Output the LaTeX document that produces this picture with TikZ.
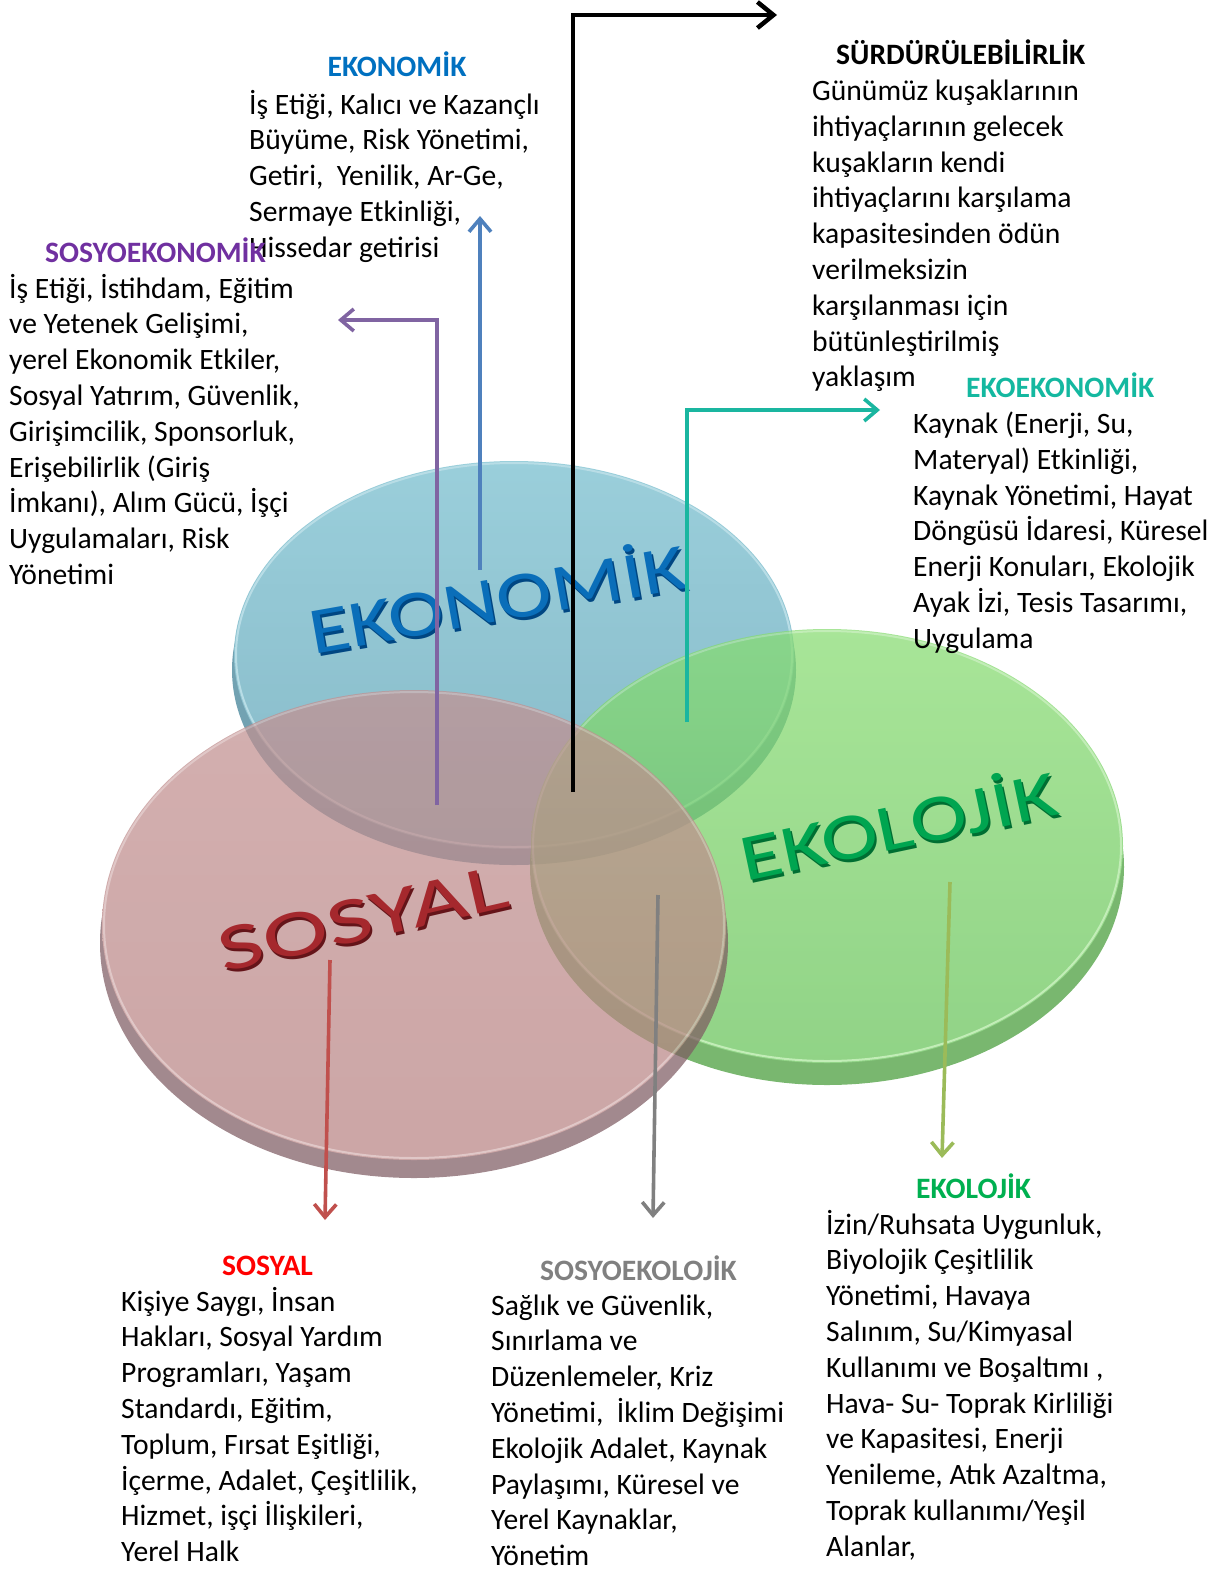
\documentclass[tikz,border=0pt]{standalone}
\usepackage{fontspec}
\setmainfont{Carlito}
\usetikzlibrary{arrows.meta}
\definecolor{ekoBlue}{RGB}{0,112,192}
\definecolor{sosPurple}{RGB}{112,48,160}
\definecolor{ekoTeal}{RGB}{20,184,160}
\definecolor{ekoGreen}{RGB}{0,176,80}
\definecolor{sosRed}{RGB}{255,0,0}
\definecolor{sosGray}{RGB}{128,128,128}
\definecolor{bTop}{RGB}{115,188,205}
\definecolor{bBot}{RGB}{88,158,178}
\definecolor{bRim}{RGB}{59,126,148}
\definecolor{rTop}{RGB}{194,145,145}
\definecolor{rBot}{RGB}{184,131,131}
\definecolor{rRim}{RGB}{126,91,98}
\definecolor{gTop}{RGB}{134,219,112}
\definecolor{gBot}{RGB}{102,194,88}
\definecolor{gRim}{RGB}{69,155,55}
\definecolor{arBlue}{RGB}{79,129,189}
\definecolor{arPurple}{RGB}{128,100,162}
\definecolor{arTeal}{RGB}{26,182,160}
\definecolor{arRed}{RGB}{192,80,77}
\definecolor{arGray}{RGB}{128,128,128}
\definecolor{arGreen}{RGB}{155,187,89}
\definecolor{txBlue}{RGB}{10,110,185}
\definecolor{txBlueD}{RGB}{0,70,130}
\definecolor{txGreen}{RGB}{0,165,80}
\definecolor{txGreenD}{RGB}{0,110,50}
\definecolor{txRed}{RGB}{165,40,45}
\definecolor{txRedD}{RGB}{100,20,25}
\tikzset{
  body/.style={anchor=base west, align=left, inner sep=0pt, font=\fontsize{29.6}{35.8}\selectfont},
  ttl/.style={anchor=base, inner sep=0pt, font=\fontsize{29.6}{35.8}\selectfont\bfseries},
  disclbl/.style={inner sep=0pt, font=\fontsize{66}{66}\selectfont},
  arr/.style={line width=3.6pt, -{Straight Barb[length=13pt,width=22pt]}},
}
\begin{document}
\begin{tikzpicture}[x=1pt,y=-1pt]
\useasboundingbox (0,0) rectangle (1229,1571);
% ---- discs ----
\begin{scope}[transparency group, opacity=0.72]
  \fill[bRim] (514,670) ellipse [x radius=282, y radius=195];
  \shade[top color=bTop, bottom color=bBot] (514,655) ellipse [x radius=280, y radius=194];
  \draw[bTop!70!white, line width=2pt] (514,655) ellipse [x radius=278, y radius=192];
\end{scope}
\begin{scope}[transparency group, opacity=0.72]
  \fill[gRim] (827,867) ellipse [x radius=297, y radius=218];
  \shade[top color=gTop, bottom color=gBot] (827,846) ellipse [x radius=296, y radius=217];
  \draw[gTop!70!white, line width=2pt] (827,846) ellipse [x radius=294, y radius=215];
\end{scope}
\begin{scope}[transparency group, opacity=0.72]
  \fill[rRim] (414,943) ellipse [x radius=314, y radius=235];
  \shade[top color=rTop, bottom color=rBot] (414,925) ellipse [x radius=312, y radius=235];
  \draw[rTop!70!white, line width=2pt] (414,925) ellipse [x radius=310, y radius=233];
\end{scope}
% ---- disc labels ----
\node[disclbl, text=txBlueD, rotate=10, xscale=1.27] at (499,598) {EKONOMİK};
\node[disclbl, text=txBlue, rotate=10, xscale=1.27] (lEko) at (497,595) {EKONOMİK};
\node[disclbl, text=txGreenD, rotate=12, xscale=1.3] at (900,825) {EKOLOJİK};
\node[disclbl, text=txGreen, rotate=12, xscale=1.3] (lEkol) at (898,822) {EKOLOJİK};
\node[disclbl, text=txRedD, rotate=13, xscale=1.5] at (365,922) {SOSYAL};
\node[disclbl, text=txRed, rotate=13, xscale=1.5] (lSos) at (363,919) {SOSYAL};
% ---- texts (body anchors at last-line baseline) ----
\node[ttl, text=ekoBlue] (tEko) at (397,77) {EKONOMİK};
\node[body] (bEko) at (249,257.2) {İş Etiği, Kalıcı ve Kazançlı\\Büyüme, Risk Yönetimi,\\Getiri,\ \ Yenilik, Ar-Ge,\\Sermaye Etkinliği,\\Hissedar getirisi};
\node[ttl, text=sosPurple, anchor=base west] (tSE) at (45,262) {SOSYOEKONOMİK};
\node[body] (bSE) at (9,584.4) {İş Etiği, İstihdam, Eğitim\\ve Yetenek Gelişimi,\\yerel Ekonomik Etkiler,\\Sosyal Yatırım, Güvenlik,\\Girişimcilik, Sponsorluk,\\Erişebilirlik (Giriş\\İmkanı), Alım Gücü, İşçi\\Uygulamaları, Risk\\Yönetimi};
\node[ttl, anchor=base west] (tSur) at (836,65) {SÜRDÜRÜLEBİLİRLİK};
\node[body] (bSur) at (812,386.9) {Günümüz kuşaklarının\\ihtiyaçlarının gelecek\\kuşakların kendi\\ihtiyaçlarını karşılama\\kapasitesinden ödün\\verilmeksizin\\karşılanması için\\bütünleştirilmiş\\yaklaşım};
\node[ttl, text=ekoTeal, anchor=base west] (tEE) at (966,397) {EKOEKONOMİK};
\node[body] (bEE) at (913,648.3) {Kaynak (Enerji, Su,\\Materyal) Etkinliği,\\Kaynak Yönetimi, Hayat\\Döngüsü İdaresi, Küresel\\Enerji Konuları, Ekolojik\\Ayak İzi, Tesis Tasarımı,\\Uygulama};
\node[ttl, text=ekoGreen, anchor=base west] (tEL) at (916,1198) {EKOLOJİK};
\node[body] (bEL) at (826,1556.2) {İzin/Ruhsata Uygunluk,\\Biyolojik Çeşitlilik\\Yönetimi, Havaya\\Salınım, Su/Kimyasal\\Kullanımı ve Boşaltımı ,\\Hava- Su- Toprak Kirliliği\\ve Kapasitesi, Enerji\\Yenileme, Atık Azaltma,\\Toprak kullanımı/Yeşil\\Alanlar,};
\node[ttl, text=sosRed, anchor=base west] (tSo) at (222,1275) {SOSYAL};
\node[body] (bSo) at (121,1561.6) {Kişiye Saygı, İnsan\\Hakları, Sosyal Yardım\\Programları, Yaşam\\Standardı, Eğitim,\\Toplum, Fırsat Eşitliği,\\İçerme, Adalet, Çeşitlilik,\\Hizmet, işçi İlişkileri,\\Yerel Halk};
\node[ttl, text=sosGray, anchor=base west] (tSEk) at (540,1280) {SOSYOEKOLOJİK};
\node[body] (bSEk) at (491,1565.6) {Sağlık ve Güvenlik,\\Sınırlama ve\\Düzenlemeler, Kriz\\Yönetimi,\ \ İklim Değişimi\\Ekolojik Adalet, Kaynak\\Paylaşımı, Küresel ve\\Yerel Kaynaklar,\\Yönetim};
% ---- arrow anchors ----
\coordinate (sBlk) at (573,792);
\coordinate (cBlk) at (573,15);
\coordinate (eBlk) at (777,15);
\coordinate (sBlu) at (480,570);
\coordinate (eBlu) at (480,216);
\coordinate (sPur) at (437,805);
\coordinate (cPur) at (437,320);
\coordinate (ePur) at (338,320);
\coordinate (sTea) at (687,722);
\coordinate (cTea) at (687,410);
\coordinate (eTea) at (880,410);
\coordinate (sRed) at (330,960);
\coordinate (eRed) at (325,1220);
\coordinate (sGry) at (658,895);
\coordinate (eGry) at (653,1218);
\coordinate (sGrn) at (950,882);
\coordinate (eGrn) at (942,1158);
% ---- arrows ----
\draw[arr, arBlue] (sBlu) -- (eBlu);
\draw[arr, arPurple] (sPur) -- (cPur) -- (ePur);
\draw[arr, arTeal] (sTea) -- (cTea) -- (eTea);
\draw[arr, arRed] (sRed) -- (eRed);
\draw[arr, arGray] (sGry) -- (eGry);
\draw[arr, arGreen] (sGrn) -- (eGrn);
\draw[arr, black, line width=4.5pt, -{Straight Barb[length=16pt,width=26pt]}] (sBlk) -- (cBlk) -- (eBlk);
\end{tikzpicture}
\end{document}
